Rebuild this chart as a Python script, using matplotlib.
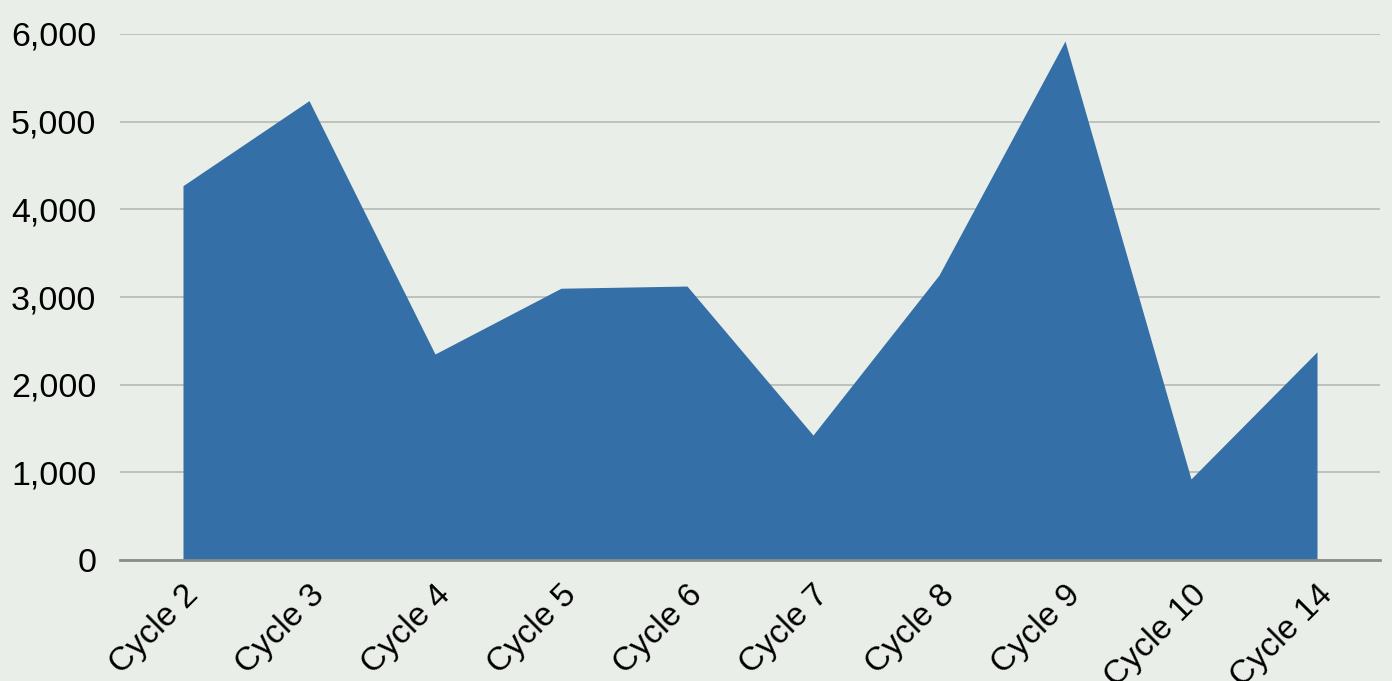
import matplotlib.pyplot as plt
from matplotlib.ticker import FuncFormatter
import numpy as np

# Chart data
cycles = ['Cycle 2', 'Cycle 3', 'Cycle 4', 'Cycle 5', 'Cycle 6',
          'Cycle 7', 'Cycle 8', 'Cycle 9', 'Cycle 10', 'Cycle 14']
values = [4270, 5240, 2350, 3100, 3125, 1425, 3250, 5920, 925, 2375]
yticks = [0, 1000, 2000, 3000, 4000, 5000, 6000]

BG = '#EAEEE9'
FILL = '#346FA7'

plt.rcParams['font.family'] = ['Liberation Sans', 'DejaVu Sans']

fig = plt.figure(figsize=(13.92, 6.81), dpi=100, facecolor=BG)
ax = fig.add_axes([120 / 1392, 1 - 560 / 681, 1260 / 1392, 526 / 681])
ax.set_facecolor(BG)

x = np.arange(len(cycles))
ax.fill_between(x, values, 0, color=FILL, linewidth=0, zorder=2)

ax.set_xlim(-0.5, len(cycles) - 0.5)
ax.set_ylim(0, 6000)
ax.set_yticks(yticks)
ax.yaxis.set_major_formatter(FuncFormatter(lambda v, p: f'{int(v):,}'))
ax.set_xticks(x)
ax.set_xticklabels(cycles, rotation=45, ha='right', va='top',
                   rotation_mode='anchor', fontsize=24)

ax.tick_params(axis='y', length=0, pad=17, labelsize=24.5)
ax.tick_params(axis='x', length=0, pad=14)

ax.grid(axis='y', color='#B5BAB5', linewidth=1.2, zorder=1)
ax.set_axisbelow(True)
for side in ['top', 'left', 'right']:
    ax.spines[side].set_visible(False)
ax.spines['bottom'].set_color('#8A8C8A')
ax.spines['bottom'].set_linewidth(2)
ax.spines['bottom'].set_zorder(3)

fig.savefig('out.png', dpi=100, facecolor=BG)
